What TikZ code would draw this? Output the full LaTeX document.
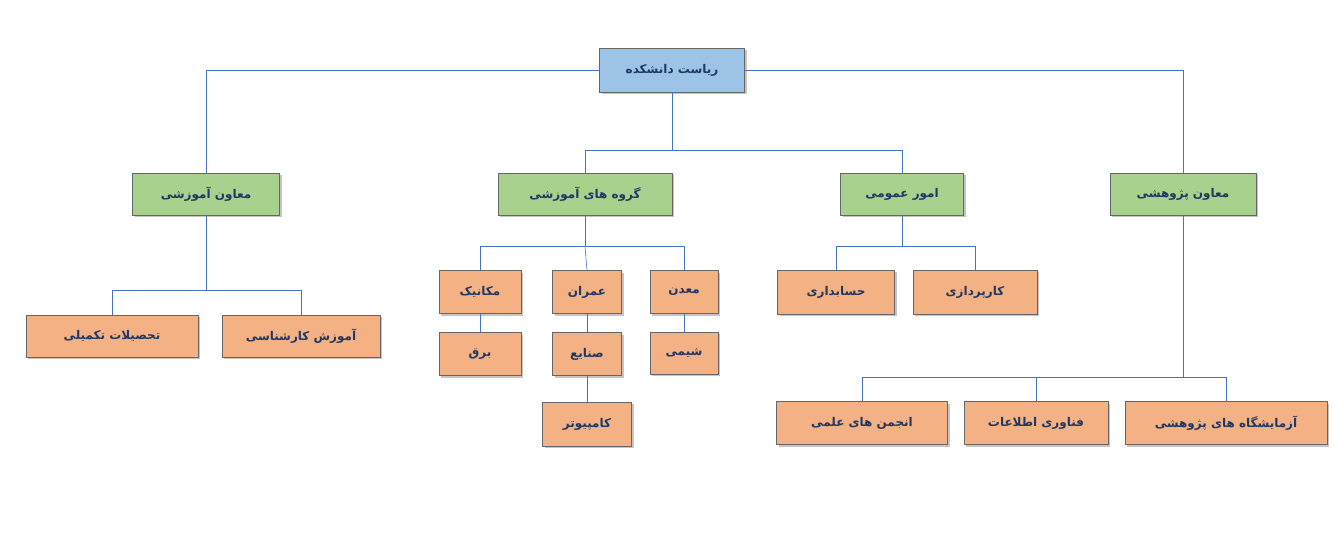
\documentclass[tikz,border=0pt]{standalone}
\usepackage{fontspec}
\newfontfamily\arabicfont[Script=Arabic]{DejaVu Sans}
\TeXXeTstate=1
\usetikzlibrary{shadows}
\definecolor{headblue}{HTML}{9DC3E6}
\definecolor{unitgreen}{HTML}{A9D18E}
\definecolor{subor}{HTML}{F4B183}
\definecolor{linkblue}{HTML}{4472C4}
\definecolor{txtblue}{HTML}{203864}
\newcommand{\fa}[1]{\arabicfont\bfseries\beginR #1\endR}
\tikzset{
	orgbox/.style={draw=black!60, inner sep=0pt, text=txtblue, font=\fontsize{12}{14}\selectfont,
		drop shadow={shadow xshift=2pt, shadow yshift=-2pt, fill=black!45}},
	headbox/.style={orgbox, fill=headblue},
	unitbox/.style={orgbox, fill=unitgreen},
	subbox/.style={orgbox, fill=subor},
	link/.style={linkblue, semithick}
}
\begin{document}
\begin{tikzpicture}[x=1pt, y=-1pt]
\useasboundingbox (0,0) rectangle (1344,559);

% head
\node[headbox, minimum width=145pt, minimum height=44pt] (head) at (672,70) {\fa{ریاست دانشکده}};

% second level
\node[unitbox, minimum width=147pt, minimum height=42pt] (edu) at (206,194) {\fa{معاون آموزشی}};
\node[unitbox, minimum width=174pt, minimum height=42pt] (groups) at (585,194) {\fa{گروه های آموزشی}};
\node[unitbox, minimum width=123pt, minimum height=42pt] (general) at (902,194) {\fa{امور عمومی}};
\node[unitbox, minimum width=146pt, minimum height=42pt] (research) at (1183,194) {\fa{معاون پژوهشی}};

% education branch
\node[subbox, minimum width=172pt, minimum height=42pt] (grad) at (112,336) {\fa{تحصیلات تکمیلی}};
\node[subbox, minimum width=158pt, minimum height=42pt] (bsc) at (301,336) {\fa{آموزش کارشناسی}};

% departments
\node[subbox, minimum width=82pt, minimum height=43pt] (mech) at (480,292) {\fa{مکانیک}};
\node[subbox, minimum width=69pt, minimum height=43pt] (civil) at (587,292) {\fa{عمران}};
\node[subbox, minimum width=68pt, minimum height=43pt] (mine) at (684,292) {\fa{معدن}};
\node[subbox, minimum width=82pt, minimum height=43pt] (elec) at (480,354) {\fa{برق}};
\node[subbox, minimum width=69pt, minimum height=43pt] (ind) at (587,354) {\fa{صنایع}};
\node[subbox, minimum width=89pt, minimum height=44pt] (comp) at (587,424) {\fa{کامپیوتر}};
\node[subbox, minimum width=68pt, minimum height=42pt] (chem) at (684,353) {\fa{شیمی}};

% general affairs
\node[subbox, minimum width=117pt, minimum height=44pt] (acc) at (836,292) {\fa{حسابداری}};
\node[subbox, minimum width=124pt, minimum height=44pt] (proc) at (975,292) {\fa{کارپردازی}};

% research branch
\node[subbox, minimum width=171pt, minimum height=43pt] (assoc) at (862,423) {\fa{انجمن های علمی}};
\node[subbox, minimum width=144pt, minimum height=43pt] (it) at (1036,423) {\fa{فناوری اطلاعات}};
\node[subbox, minimum width=202pt, minimum height=43pt] (labs) at (1226,423) {\fa{آزمایشگاه های پژوهشی}};

% connectors
\draw[link] (head.west) -| (edu.north);
\draw[link] (head.east) -| (research.north);
\draw[link] (head.south) -- ++(0,58) coordinate (hsplit);
\draw[link] (hsplit) -| (groups.north);
\draw[link] (hsplit) -| (general.north);

\draw[link] (edu.south) -- ++(0,75) coordinate (esplit);
\draw[link] (esplit) -| (grad.north);
\draw[link] (esplit) -| (bsc.north);

\draw[link] (groups.south) -- ++(0,31) coordinate (gsplit);
\draw[link] (gsplit) -| (mech.north);
\draw[link] (gsplit) -- (civil.north);
\draw[link] (gsplit) -| (mine.north);
\draw[link] (mech) -- (elec);
\draw[link] (civil) -- (ind);
\draw[link] (ind) -- (comp);
\draw[link] (mine) -- (chem);

\draw[link] (general.south) -- ++(0,31) coordinate (osplit);
\draw[link] (osplit) -| (acc.north);
\draw[link] (osplit) -| (proc.north);

\draw[link] (research.south) -- ++(0,162) coordinate (rsplit);
\draw[link] (rsplit) -| (assoc.north);
\draw[link] (rsplit) -| (it.north);
\draw[link] (rsplit) -| (labs.north);
\end{tikzpicture}
\end{document}
